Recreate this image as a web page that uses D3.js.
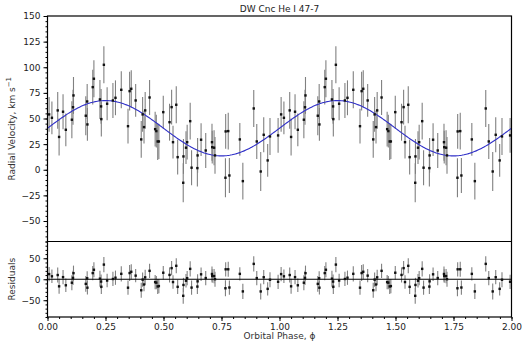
<!DOCTYPE html>
<html>
<head>
<meta charset="utf-8">
<script src="https://cdnjs.cloudflare.com/ajax/libs/d3/7.8.5/d3.min.js"></script>
<style>
  body { margin: 0; background: #fff; }
  text { font-family: "DejaVu Sans", sans-serif; }
</style>
</head>
<body>
<div id="chart"></div>
<script>
// one orbital cycle (repeated for phase 1-2)
const phase = [0.007, 0.019, 0.044, 0.050, 0.067, 0.079, 0.105, 0.110, 0.112, 0.165,
  0.171, 0.172, 0.195, 0.200, 0.226, 0.231, 0.232, 0.243, 0.257, 0.282,
  0.293, 0.318, 0.347, 0.354, 0.361, 0.380, 0.404, 0.410, 0.416, 0.421,
  0.440, 0.464, 0.469, 0.475, 0.480, 0.499, 0.526, 0.535, 0.541, 0.555,
  0.561, 0.585, 0.586, 0.597, 0.602, 0.615, 0.621, 0.646, 0.647, 0.662,
  0.682, 0.709, 0.710, 0.718, 0.722, 0.767, 0.768, 0.779, 0.784, 0.829,
  0.842, 0.889, 0.902, 0.919, 0.932, 0.949, 0.959, 0.994];
const rv = [54, 50.7, 57.9, 32, 56.6, 39, 48.8, 61, 72.5, 52.7,
  66.6, 44.2, 80.6, 88.8, 68.6, 61.8, 49.4, 102.4, 64.4, 67.6,
  70.2, 78, 42.5, 76.7, 79, 67.6, 29.6, 54, 41.6, 57.9,
  70.5, 39.6, 37.7, 27.6, 27.6, 56.2, 46.4, 61.1, 26.9, 63.4,
  12.3, -12.7, 13, 21.5, 26.9, 47.4, 2, 1.6, 14, 29.3,
  18.8, 26.9, 22, 21.5, 14, -7.8, 37.4, 37.7, -5.6, 29.6,
  -11.1, 59.8, 27.6, -1.7, 34.1, 9.1, 32.5, 33.5];
const err = [17, 16, 18, 18, 17, 16, 18, 17, 18, 19,
  17, 16, 17, 18, 19, 17, 17, 18, 16, 17,
  17, 18, 17, 19, 18, 16, 18, 17, 16, 18,
  17, 17, 16, 18, 17, 16, 18, 17, 16, 18,
  17, 19, 17, 16, 17, 18, 17, 18, 17, 16,
  17, 18, 16, 17, 18, 19, 17, 18, 17, 16,
  18, 18, 17, 19, 17, 16, 18, 17];

const gamma = 40.5, K = 27;   // fitted sinusoid
const xTicks = [0, 0.25, 0.5, 0.75, 1, 1.25, 1.5, 1.75, 2];
const rvTicks = [-50, -25, 0, 25, 50, 75, 100, 125, 150];
const resTicks = [-50, 0, 50];

const model = p => gamma + K * Math.sin(2 * Math.PI * p);

let points = [];
[0, 1].forEach(cyc => {
  phase.forEach((p, i) => {
    points.push({ p: p + cyc, v: rv[i], e: err[i], r: rv[i] - model(p) });
  });
});

const W = 528, H = 344;
const L = 47.5, R = 511.5, T = 16, M = 241.5, B = 317;

const svg = d3.select("#chart").append("svg")
  .attr("width", W).attr("height", H);

const x = d3.scaleLinear().domain([0, 2]).range([L, R]);
const y = d3.scaleLinear().domain([-70, 150]).range([M, T]);
const yr = d3.scaleLinear().domain([-90, 90]).range([B, M]);

// axes
function styleAxis(g) {
  g.select(".domain").remove();
  g.selectAll("line").attr("stroke", "#000");
  g.selectAll("text").attr("fill", "#222").style("font-size", "9px");
}

svg.append("g").attr("transform", `translate(${L},0)`)
  .call(d3.axisLeft(y).tickValues(d3.range(-70, 151, 5)).tickSize(2).tickFormat(""))
  .call(styleAxis);
svg.append("g").attr("transform", `translate(${L},0)`)
  .call(d3.axisLeft(y).tickValues(rvTicks).tickSize(4).tickPadding(3)
    .tickFormat(d => d < 0 ? "\u2212" + Math.abs(d) : d))
  .call(styleAxis);

svg.append("g").attr("transform", `translate(${L},0)`)
  .call(d3.axisLeft(yr).tickValues(d3.range(-90, 91, 10)).tickSize(2).tickFormat(""))
  .call(styleAxis);
svg.append("g").attr("transform", `translate(${L},0)`)
  .call(d3.axisLeft(yr).tickValues(resTicks).tickSize(4).tickPadding(3)
    .tickFormat(d => d < 0 ? "\u2212" + Math.abs(d) : d))
  .call(styleAxis);

svg.append("g").attr("transform", `translate(0,${B})`)
  .call(d3.axisBottom(x).tickValues(d3.range(0, 2.001, 0.05)).tickSize(2).tickFormat(""))
  .call(styleAxis);
svg.append("g").attr("transform", `translate(0,${B})`)
  .call(d3.axisBottom(x).tickValues(xTicks).tickSize(4).tickPadding(3).tickFormat(d3.format(".2f")))
  .call(styleAxis);

// top panel: error bars, points, model
const rvPanel = svg.append("g");
rvPanel.selectAll("line.eb").data(points).join("line")
  .attr("class", "eb")
  .attr("x1", d => x(d.p)).attr("x2", d => x(d.p))
  .attr("y1", d => y(d.v - d.e)).attr("y2", d => y(d.v + d.e))
  .attr("stroke", "#808080").attr("stroke-width", 1.1);

const curve = d3.range(0, 2.0001, 0.005);
rvPanel.append("path")
  .datum(curve)
  .attr("d", d3.line().x(d => x(d)).y(d => y(model(d))))
  .attr("fill", "none").attr("stroke", "#3030c8").attr("stroke-width", 1.1);

rvPanel.selectAll("rect.pt").data(points).join("rect")
  .attr("class", "pt")
  .attr("x", d => x(d.p) - 1.2).attr("y", d => y(d.v) - 1.2)
  .attr("width", 2.4).attr("height", 2.4).attr("fill", "#111");

// residuals panel
const resPanel = svg.append("g");
resPanel.selectAll("line.eb").data(points).join("line")
  .attr("class", "eb")
  .attr("x1", d => x(d.p)).attr("x2", d => x(d.p))
  .attr("y1", d => yr(d.r - d.e)).attr("y2", d => yr(d.r + d.e))
  .attr("stroke", "#808080").attr("stroke-width", 1.1);

resPanel.append("line")
  .attr("x1", L).attr("x2", R).attr("y1", yr(0)).attr("y2", yr(0))
  .attr("stroke", "#000").attr("stroke-width", 1.2);

resPanel.selectAll("rect.pt").data(points).join("rect")
  .attr("class", "pt")
  .attr("x", d => x(d.p) - 1.2).attr("y", d => yr(d.r) - 1.2)
  .attr("width", 2.4).attr("height", 2.4).attr("fill", "#111");

// frames
svg.append("rect").attr("x", L).attr("y", T).attr("width", R - L).attr("height", B - T)
  .attr("fill", "none").attr("stroke", "#000").attr("stroke-width", 1.2);
svg.append("line").attr("x1", L).attr("x2", R).attr("y1", M).attr("y2", M)
  .attr("stroke", "#000").attr("stroke-width", 1.2);

// labels
svg.append("text").attr("x", (L + R) / 2).attr("y", 12)
  .attr("text-anchor", "middle").style("font-size", "9px").attr("fill", "#222")
  .text("DW Cnc He I 47-7");

svg.append("text").attr("x", (L + R) / 2).attr("y", 339)
  .attr("text-anchor", "middle").style("font-size", "9px").attr("fill", "#333")
  .text("Orbital Phase, \u03d5");

const yl = svg.append("text")
  .attr("transform", `translate(15,${(T + M) / 2}) rotate(-90)`)
  .attr("text-anchor", "middle").style("font-size", "9px").attr("fill", "#333");
yl.append("tspan").text("Radial Velocity, km s");
yl.append("tspan").attr("dy", -4).style("font-size", "7px").text("\u22121");

svg.append("text")
  .attr("transform", `translate(15,${(M + B) / 2}) rotate(-90)`)
  .attr("text-anchor", "middle").style("font-size", "9px").attr("fill", "#333")
  .text("Residuals");
</script>
</body>
</html>
